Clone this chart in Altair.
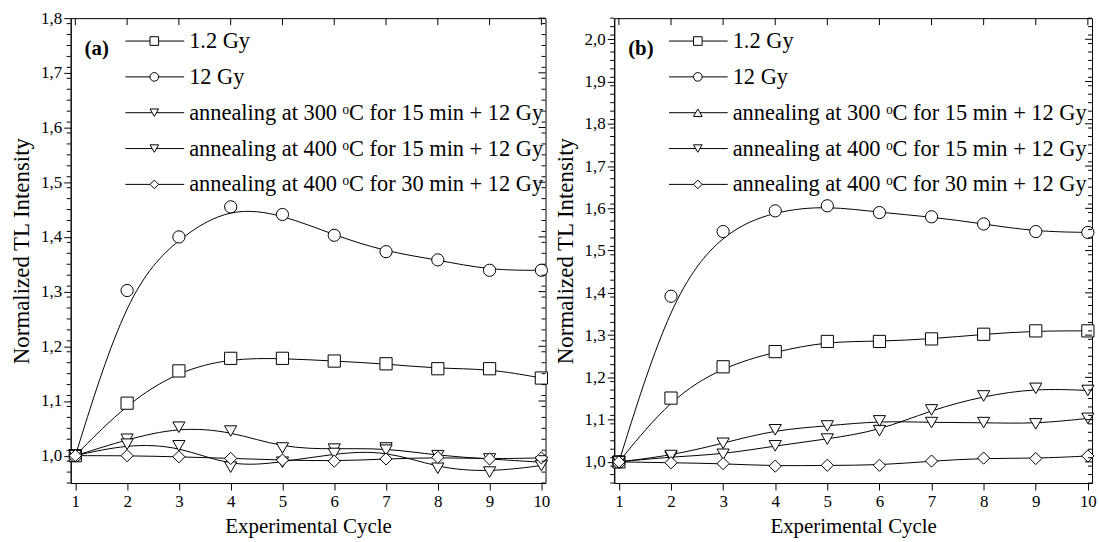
import altair as alt
import numpy as np
import pandas as pd

FONT = "Liberation Serif"

# ---------------- data ----------------
CYCLES = [1, 2, 3, 4, 5, 6, 7, 8, 9, 10]

SERIES = [
    "1.2 Gy",
    "12 Gy",
    "annealing at 300 \u1d52C for 15 min + 12 Gy",
    "annealing at 400 \u1d52C for 15 min + 12 Gy",
    "annealing at 400 \u1d52C for 30 min + 12 Gy",
]

# panel (a)
a_1_2gy = [1.0, 1.096, 1.155, 1.178, 1.178, 1.173, 1.168, 1.159, 1.159, 1.142]
a_12gy = [1.0, 1.302, 1.400, 1.455, 1.441, 1.403, 1.373, 1.358, 1.339, 1.339]
a_300_15 = [1.0, 1.030, 1.052, 1.045, 1.014, 1.012, 1.014, 1.000, 0.994, 0.988]
a_400_15 = [1.0, 1.021, 1.018, 0.979, 0.988, 1.004, 1.010, 0.977, 0.970, 0.982]
a_400_30 = [1.0, 1.000, 0.998, 0.995, 0.992, 0.990, 0.994, 0.997, 0.994, 0.996]

# panel (b)
b_1_2gy = [1.0, 1.151, 1.225, 1.261, 1.285, 1.285, 1.291, 1.302, 1.310, 1.310]
b_12gy = [1.0, 1.392, 1.545, 1.594, 1.606, 1.590, 1.580, 1.563, 1.545, 1.543]
b_300_15 = [1.0, 1.012, 1.018, 1.038, 1.054, 1.074, 1.123, 1.156, 1.174, 1.169]
b_400_15 = [1.0, 1.015, 1.044, 1.076, 1.085, 1.097, 1.093, 1.093, 1.090, 1.103]
b_400_30 = [1.0, 0.998, 0.996, 0.990, 0.992, 0.992, 1.002, 1.009, 1.008, 1.014]

SHAPES_A = ["square", "circle", "triangle-down", "triangle-down", "diamond"]
SHAPES_B = ["square", "circle", "triangle-up", "triangle-down", "diamond"]

X_DOMAIN = [0.91, 10.08]
YDOM_A = [0.95, 1.8]
YDOM_B = [0.95, 2.05]
YMAJ_A = [1.0, 1.1, 1.2, 1.3, 1.4, 1.5, 1.6, 1.7, 1.8]
YMAJ_B = [1.0, 1.1, 1.2, 1.3, 1.4, 1.5, 1.6, 1.7, 1.8, 1.9, 2.0]

W_A = 477
W_B = 480
H = 467
TICK = 7
MINOR = 4

LEG_Y0 = 23
LEG_DY = 36


def minor_ticks(dom, majors):
    vals = np.round(np.arange(dom[0], dom[1] + 1e-9, 0.02), 3)
    maj = set(np.round(majors, 3))
    return [float(v) for v in vals if v not in maj and dom[0] <= v <= dom[1]]


AXIS_STYLE = dict(
    labelFont=FONT, labelFontSize=17, labelColor="black",
    titleFont=FONT, titleFontWeight="normal", titleColor="black",
    tickColor="black", domainColor="black", tickSize=TICK, grid=False,
)


def make_panel(tag, values, shapes, ydom, ymaj, W):
    rows = []
    for name, vals in zip(SERIES, values):
        for c, v in zip(CYCLES, vals):
            rows.append({"cycle": c, "value": v, "series": name})
    df = pd.DataFrame(rows)

    xs = alt.Scale(domain=X_DOMAIN, nice=False, zero=False)
    ys = alt.Scale(domain=ydom, nice=False, zero=False)
    xaxis = alt.Axis(values=CYCLES, format="d", title="Experimental Cycle",
                     labelPadding=4, titlePadding=6, titleFontSize=21,
                     **AXIS_STYLE)
    yaxis = alt.Axis(
        values=ymaj,
        labelExpr="replace(format(datum.value, '.1f'), '.', ',')",
        title="Normalized TL Intensity", labelPadding=2, titlePadding=7,
        titleFontSize=23,
        **AXIS_STYLE,
    )

    lines = alt.Chart(df).mark_line(
        interpolate="basis", color="black", strokeWidth=1
    ).encode(
        x=alt.X("cycle:Q", scale=xs, axis=xaxis),
        y=alt.Y("value:Q", scale=ys, axis=yaxis),
        detail="series:N",
    )
    points = alt.Chart(df).mark_point(
        filled=True, fill="white", stroke="black", strokeWidth=1, size=150, opacity=1
    ).encode(
        x=alt.X("cycle:Q", scale=xs, axis=xaxis),
        y=alt.Y("value:Q", scale=ys, axis=yaxis),
        shape=alt.Shape(
            "series:N", scale=alt.Scale(domain=SERIES, range=shapes), legend=None
        ),
    )

    top = alt.Chart(pd.DataFrame({"cycle": CYCLES})).mark_rule(
        color="black", strokeWidth=1
    ).encode(
        x=alt.X("cycle:Q", scale=xs, axis=xaxis), y=alt.value(0), y2=alt.value(TICK)
    )
    right_major = alt.Chart(pd.DataFrame({"value": ymaj})).mark_rule(
        color="black", strokeWidth=1
    ).encode(
        y=alt.Y("value:Q", scale=ys, axis=yaxis), x=alt.value(W), x2=alt.value(W - TICK)
    )
    ymin = minor_ticks(ydom, ymaj)
    right_minor = alt.Chart(pd.DataFrame({"value": ymin})).mark_rule(
        color="black", strokeWidth=1
    ).encode(
        y=alt.Y("value:Q", scale=ys, axis=yaxis), x=alt.value(W), x2=alt.value(W - MINOR)
    )
    left_minor = alt.Chart(pd.DataFrame({"value": ymin})).mark_rule(
        color="black", strokeWidth=1
    ).encode(
        y=alt.Y("value:Q", scale=ys, axis=yaxis), x=alt.value(0), x2=alt.value(-MINOR)
    )

    legend_layers = []
    for i, (name, shp) in enumerate(zip(SERIES, shapes)):
        yy = LEG_Y0 + i * LEG_DY
        one = pd.DataFrame({"label": [name]})
        legend_layers.append(
            alt.Chart(one).mark_rule(color="black", strokeWidth=1).encode(
                x=alt.value(55), x2=alt.value(114), y=alt.value(yy)
            )
        )
        legend_layers.append(
            alt.Chart(one).mark_point(
                shape=shp, filled=True, fill="white", stroke="black",
                strokeWidth=1, size=75, opacity=1
            ).encode(x=alt.value(84), y=alt.value(yy))
        )
        legend_layers.append(
            alt.Chart(one).mark_text(
                align="left", baseline="middle", font=FONT, fontSize=22.5, color="black"
            ).encode(x=alt.value(119), y=alt.value(yy), text="label:N")
        )

    tag_layer = alt.Chart(pd.DataFrame({"tag": [tag]})).mark_text(
        align="left", baseline="middle", font=FONT, fontSize=21,
        fontWeight="bold", color="black"
    ).encode(x=alt.value(14), y=alt.value(31), text="tag:N")

    return alt.layer(
        lines, points, top, right_major, right_minor, left_minor,
        *legend_layers, tag_layer
    ).properties(width=W, height=H)


panel_a = make_panel(
    "(a)", [a_1_2gy, a_12gy, a_300_15, a_400_15, a_400_30], SHAPES_A, YDOM_A, YMAJ_A, W_A
)
panel_b = make_panel(
    "(b)", [b_1_2gy, b_12gy, b_300_15, b_400_15, b_400_30], SHAPES_B, YDOM_B, YMAJ_B, W_B
)

chart = alt.hconcat(panel_a, panel_b, spacing=3).configure(
    padding={"left": 10, "top": 7, "right": 2, "bottom": 0},
    background="white",
    font=FONT,
).configure_view(
    stroke="black", strokeWidth=1
).configure_axis(**AXIS_STYLE)

chart.save("out.html", embed_options={"renderer": "svg", "actions": False})
